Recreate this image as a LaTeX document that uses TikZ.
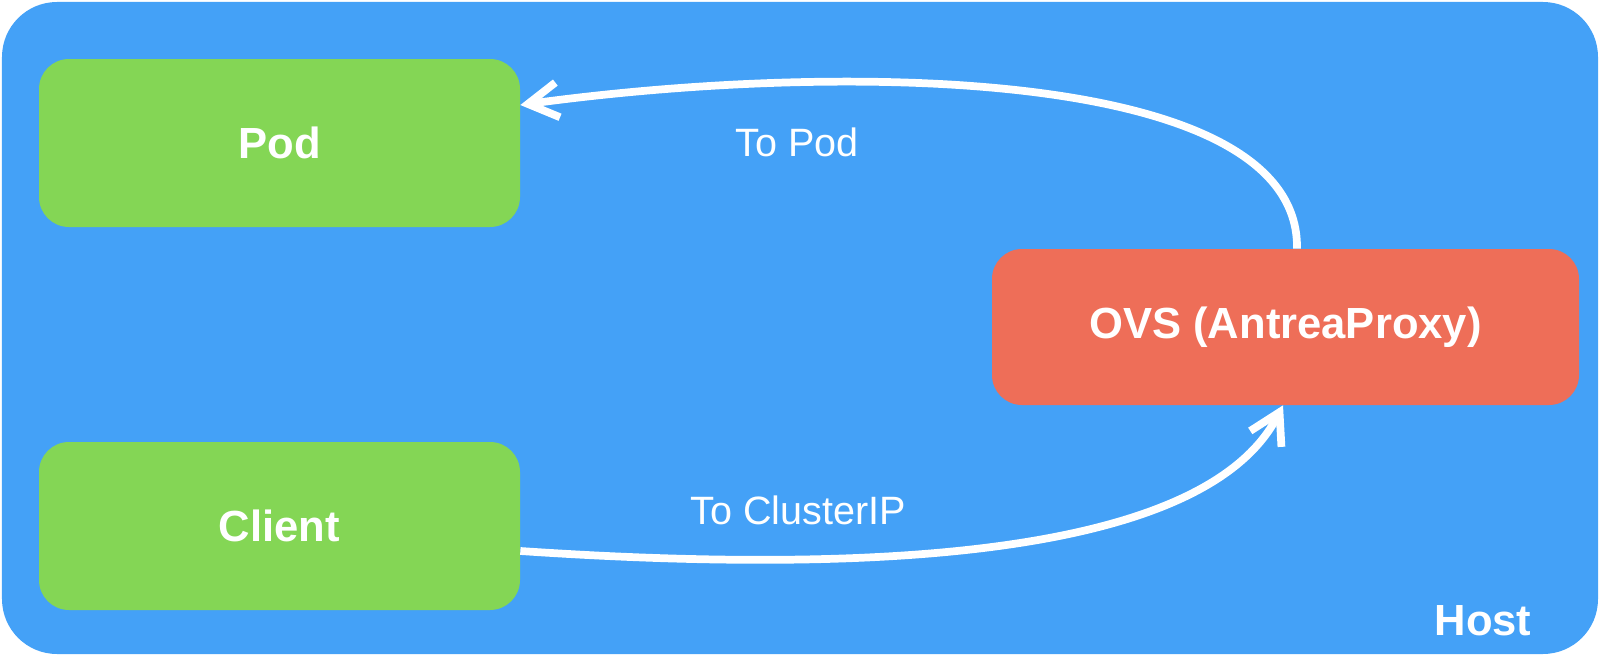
\documentclass[tikz,border=0pt]{standalone}
\usepackage{fontspec}
\setmainfont{Liberation Sans}
\usepackage{xcolor}
\usetikzlibrary{arrows.meta}

\definecolor{hostblue}{HTML}{44A1F7}
\definecolor{podgreen}{HTML}{84D655}
\definecolor{ovsred}{HTML}{EE6E58}

\begin{document}
\begin{tikzpicture}[>={Straight Barb[length=0.6cm, width=0.7cm]},
    box/.style={rounded corners=0.6cm, text=white, inner sep=0pt,
        font=\fontsize{24.8}{28}\selectfont\bfseries,
        minimum width=9.62cm, minimum height=3.36cm},
    flow/.style={->, white, line width=4.4pt},
    lbl/.style={text=white, font=\fontsize{22.5}{26}\selectfont}]
            % The host frame
            \useasboundingbox (0,0) rectangle (32,13.12);
            \fill[hostblue, rounded corners=1.1cm] (0.04,0.04) rectangle (31.96,13.08);
            \node[text=white, font=\fontsize{24.8}{28}\selectfont\bfseries] (host) at (29.66,0.7) {Host};

            % Boxes
            \node[box, fill=podgreen] (pod) at (5.59,10.26) {Pod};
            \node[box, fill=podgreen] (client) at (5.59,2.6) {Client};
            \node[box, fill=ovsred, minimum width=11.74cm, minimum height=3.12cm] (ovs) at (25.71,6.58) {OVS (AntreaProxy)};

            % Traffic
            \draw[flow] ([yshift=-0.5cm]client.east) .. controls +(8.6,-0.58) and +(-1.36,-2.66) .. ([xshift=-0.05cm]ovs.south);
            \draw[flow] ([xshift=0.23cm]ovs.north) .. controls +(0.06,3.6) and +(6.6,0.9) .. ([yshift=0.76cm]pod.east);

            % Labels on the arrows
            \node[lbl] (toclusterip) at (15.96,2.92) {To ClusterIP};
            \node[lbl] (topod) at (15.94,10.28) {To Pod};
        \end{tikzpicture}
\end{document}
